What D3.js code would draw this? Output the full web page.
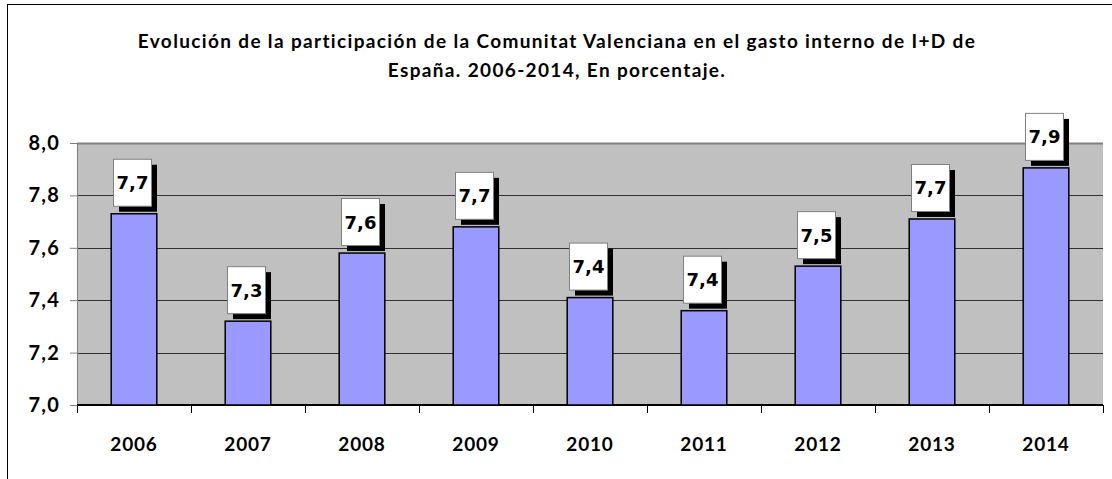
<!DOCTYPE html>
<html>
<head>
<meta charset="utf-8">
<script src="https://cdn.jsdelivr.net/npm/d3@7"></script>
<style>
  body { margin: 0; background: #fff; }
  svg { display: block; }
</style>
</head>
<body>
<div id="chart"></div>
<script>
// data
const years = ['2006', '2007', '2008', '2009', '2010', '2011', '2012', '2013', '2014'];
const shares = [7.73, 7.32, 7.58, 7.68, 7.41, 7.36, 7.53, 7.71, 7.905];
const yTicks = [7.0, 7.2, 7.4, 7.6, 7.8, 8.0];
const titleLines = [
    'Evolución de la participación de la Comunitat Valenciana en el gasto interno de I+D de',
    'España. 2006-2014, En porcentaje.'
];

const W = 1112, H = 479;
const margin = { top: 143, right: 9, bottom: 74, left: 77 };
const width = W - margin.left - margin.right;
const height = H - margin.top - margin.bottom;
const fmt = v => v.toFixed(1).replace('.', ',');
const font = 'Lato, "Open Sans", sans-serif';

const svg = d3.select('#chart').append('svg')
    .attr('width', W)
    .attr('height', H);

// outer chart frame (only top and left fall inside the window)
svg.append('rect')
    .attr('x', 7.5).attr('y', 4.5)
    .attr('width', W + 20).attr('height', H + 20)
    .attr('fill', 'none')
    .attr('stroke', '#000')
    .attr('stroke-width', 1);

// title
svg.append('text')
    .attr('text-anchor', 'middle')
    .style('font-family', font)
    .style('font-weight', 'bold')
    .style('font-size', '19px')
    .style('letter-spacing', '1.35px')
    .selectAll('tspan')
    .data(titleLines)
    .enter()
    .append('tspan')
    .attr('x', 557)
    .attr('y', (d, i) => 48 + i * 29)
    .text(d => d);

const g = svg.append('g')
    .attr('transform', `translate(${margin.left},${margin.top})`);

const x = d3.scaleBand()
    .domain(years)
    .range([0, width])
    .paddingInner(0.6)
    .paddingOuter(0.3);

const y = d3.scaleLinear()
    .domain([7.0, 8.0])
    .range([height, 0]);

// plot area
g.append('rect')
    .attr('width', width)
    .attr('height', height)
    .attr('fill', '#C0C0C0');

// gridlines
g.append('g')
    .selectAll('line')
    .data(yTicks.slice(1))
    .enter()
    .append('line')
    .attr('x1', 0).attr('x2', width)
    .attr('y1', d => Math.round(y(d)) + 0.5)
    .attr('y2', d => Math.round(y(d)) + 0.5)
    .attr('stroke', d => d === 8.0 ? '#808080' : '#303030')
    .attr('stroke-width', d => d === 8.0 ? 2 : 1.2);

// y axis
const yAxis = g.append('g')
    .call(d3.axisLeft(y).tickValues(yTicks).tickFormat(fmt).tickSize(7).tickPadding(10));
yAxis.select('.domain').attr('stroke', '#808080');
yAxis.selectAll('.tick line').attr('stroke', '#808080');
yAxis.selectAll('text')
    .style('font-family', font)
    .style('font-weight', 'bold')
    .style('font-size', '20px')
    .style('letter-spacing', '1.2px')
    .attr('fill', '#000');

// x axis with ticks at band boundaries
const xAxis = g.append('g')
    .attr('transform', `translate(0,${height})`);
xAxis.append('line')
    .attr('x1', 0).attr('x2', width)
    .attr('stroke', '#000').attr('stroke-width', 2);
xAxis.selectAll('.xtick')
    .data(d3.range(years.length + 1))
    .enter()
    .append('line')
    .attr('class', 'xtick')
    .attr('x1', i => Math.round(i * width / years.length) + 0.5)
    .attr('x2', i => Math.round(i * width / years.length) + 0.5)
    .attr('y1', 0).attr('y2', 8)
    .attr('stroke', '#000');
xAxis.selectAll('.xlabel')
    .data(years)
    .enter()
    .append('text')
    .attr('class', 'xlabel')
    .attr('x', d => x(d) + x.bandwidth() / 2)
    .attr('y', 46)
    .attr('text-anchor', 'middle')
    .style('font-family', font)
    .style('font-weight', 'bold')
    .style('font-size', '19px')
    .style('letter-spacing', '0.8px')
    .text(d => d);

// bars
g.selectAll('.bar')
    .data(years)
    .enter()
    .append('rect')
    .attr('class', 'bar')
    .attr('x', d => x(d))
    .attr('y', (d, i) => y(shares[i]))
    .attr('width', x.bandwidth())
    .attr('height', (d, i) => height - y(shares[i]))
    .attr('fill', '#9999FF')
    .attr('stroke', '#000')
    .attr('stroke-width', 1.5);

// value labels: white box with black drop shadow
const boxW = 38, boxH = 47, shadow = 6;
const labels = g.selectAll('.lbl')
    .data(years)
    .enter()
    .append('g')
    .attr('class', 'lbl')
    .attr('transform', (d, i) => {
        const cx = x(d) + x.bandwidth() / 2;
        const top = y(shares[i]) - boxH - shadow - 2;
        return `translate(${cx - boxW / 2 - 2},${top})`;
    });
labels.append('rect')
    .attr('x', shadow).attr('y', shadow)
    .attr('width', boxW).attr('height', boxH)
    .attr('fill', '#000');
labels.append('rect')
    .attr('x', 0.5).attr('y', 0.5)
    .attr('width', boxW).attr('height', boxH)
    .attr('fill', '#fff')
    .attr('stroke', '#808080');
labels.append('text')
    .attr('x', boxW / 2 + 0.5)
    .attr('y', boxH / 2 + 7)
    .attr('text-anchor', 'middle')
    .style('font-family', '"DejaVu Sans", Verdana, sans-serif')
    .style('font-weight', 'bold')
    .style('font-size', '18px')
    .text((d, i) => fmt(shares[i]));
</script>
</body>
</html>
